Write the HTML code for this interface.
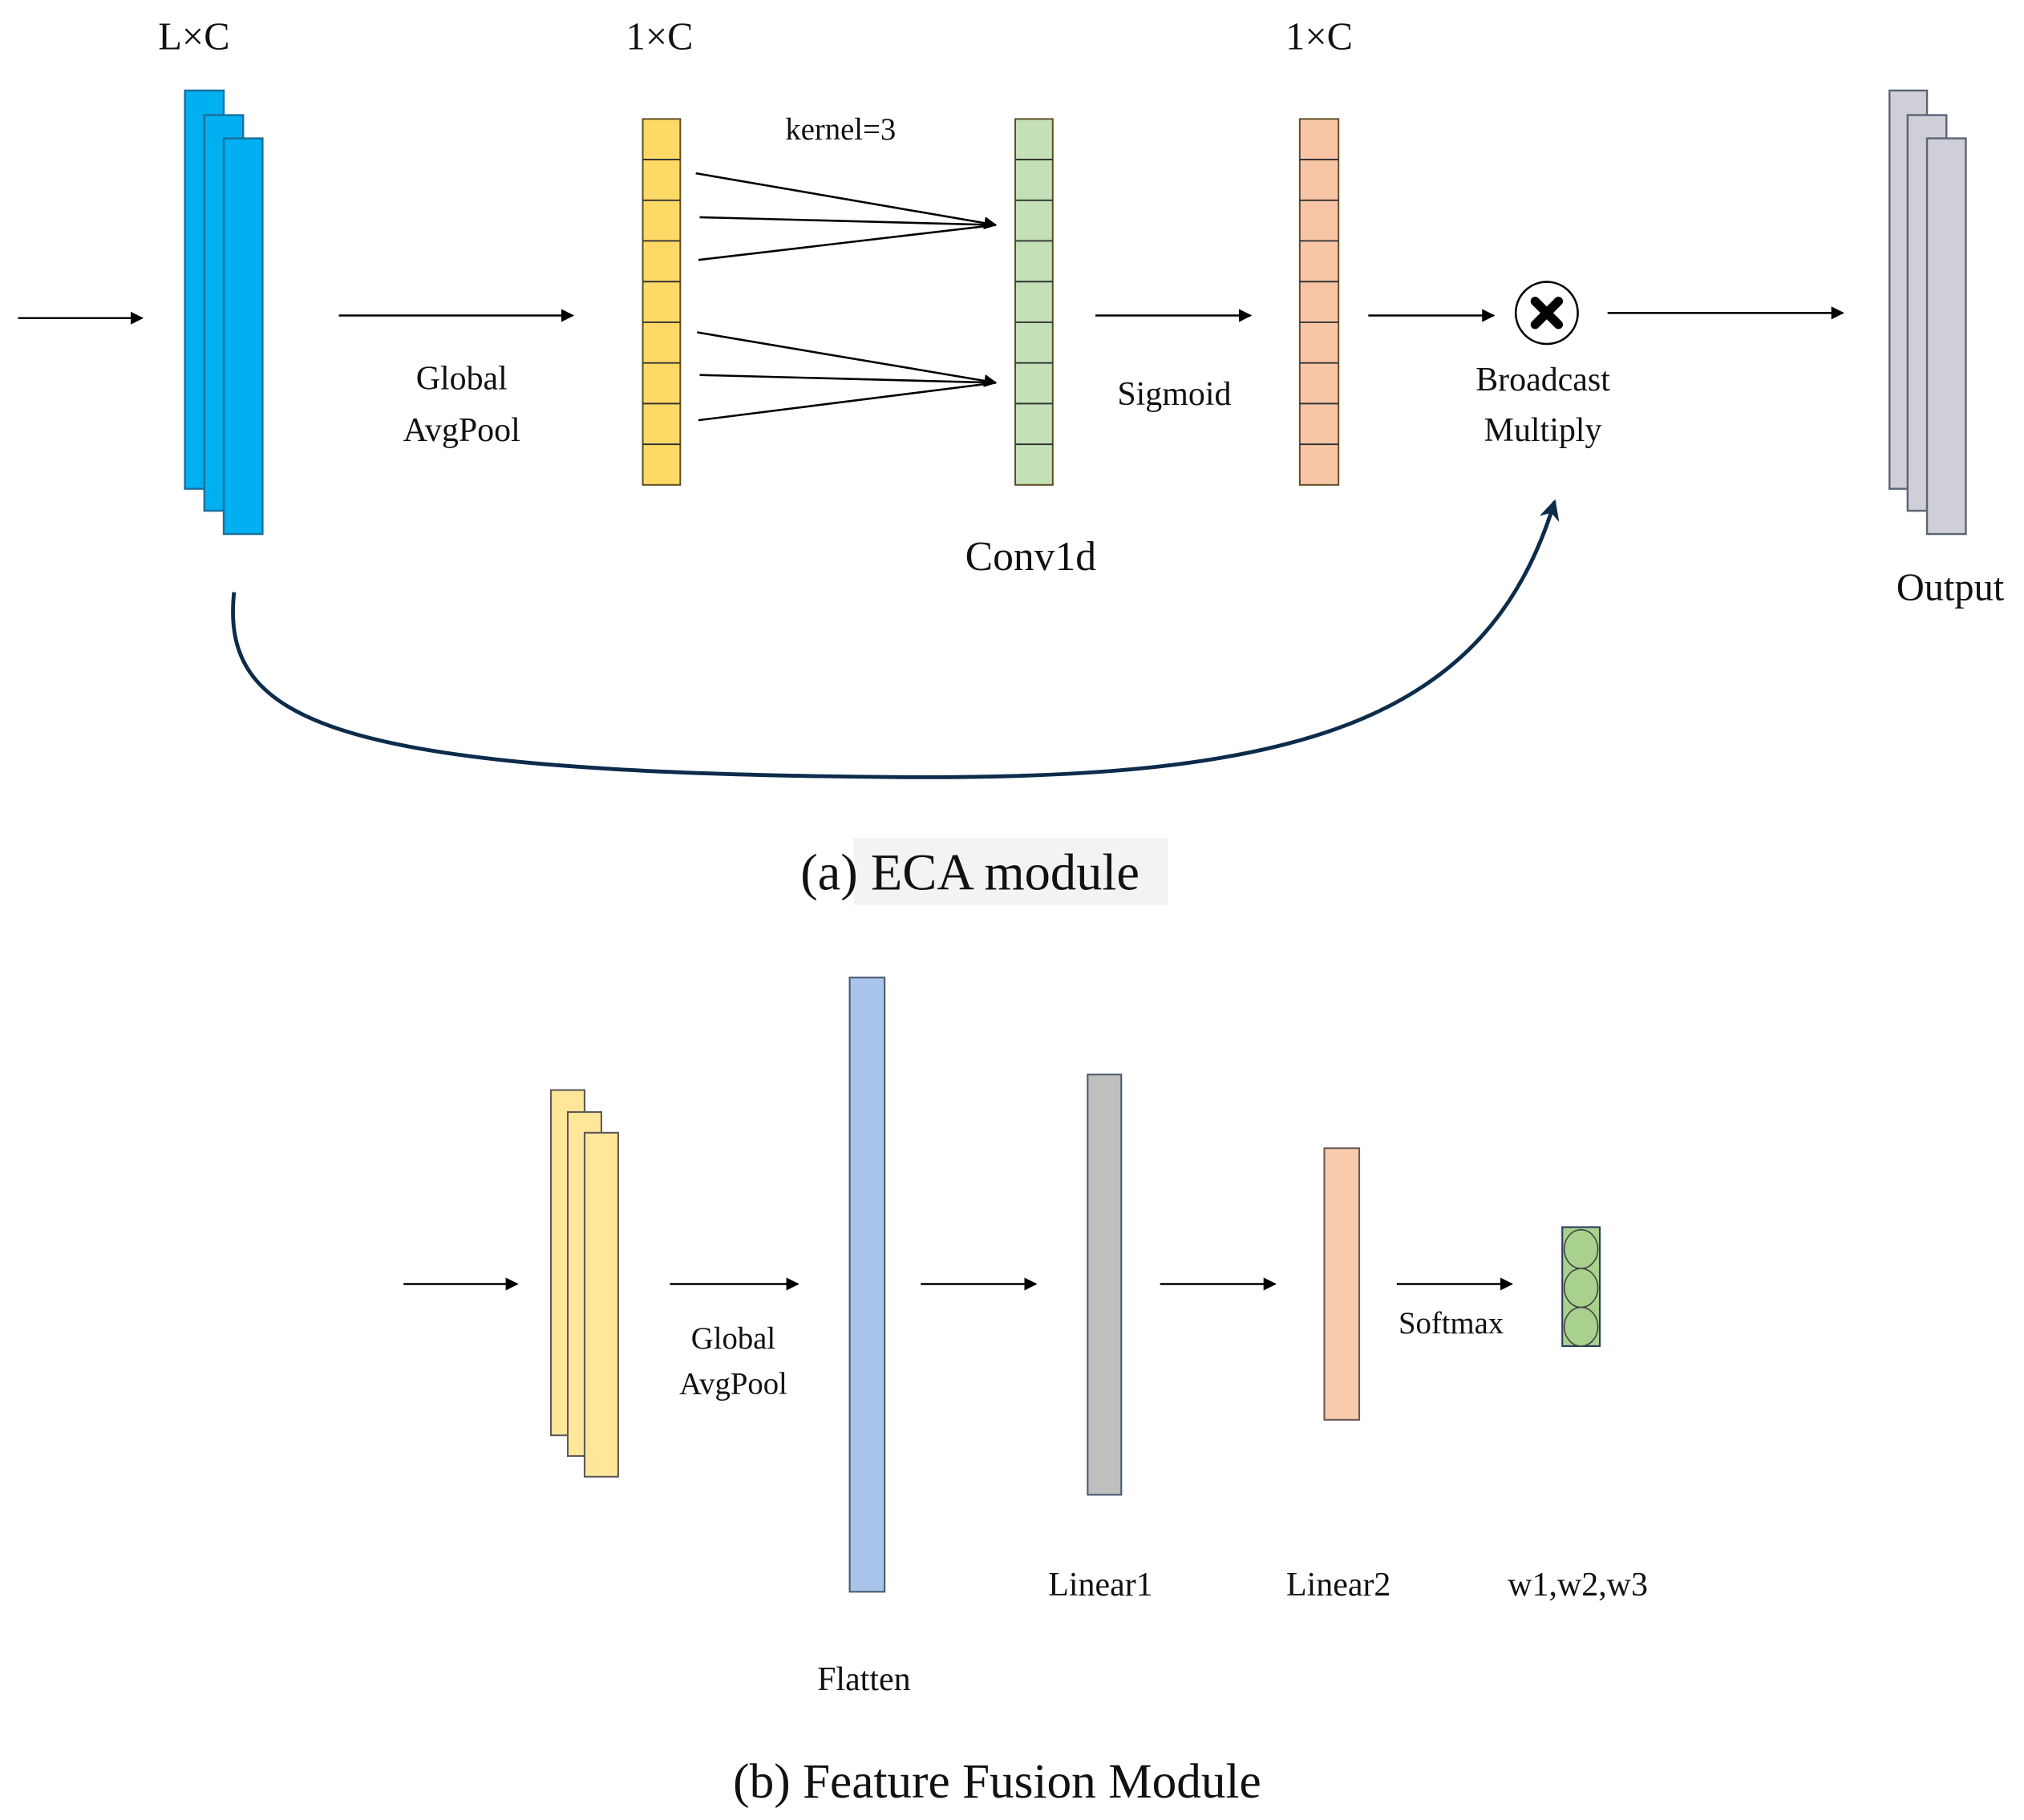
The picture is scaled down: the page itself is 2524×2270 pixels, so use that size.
<!DOCTYPE html>
<html><head><meta charset="utf-8"><style>
html,body{margin:0;padding:0;background:#fff;}
svg{display:block;}
text{font-family:"Liberation Serif",serif;fill:#111;}
</style></head><body>
<svg width="2524" height="2270" viewBox="0 0 1565 1407.5" preserveAspectRatio="none" xmlns="http://www.w3.org/2000/svg">
<defs>
<marker id="ah" markerWidth="10" markerHeight="10" refX="9" refY="5" orient="auto" markerUnits="userSpaceOnUse">
<path d="M0,0 L10,5 L0,10 z" fill="#000"/>
</marker>
<marker id="ah2" markerWidth="16" markerHeight="16" refX="14" refY="8" orient="auto" markerUnits="userSpaceOnUse">
<path d="M0,0 L16,8 L0,16 L5,8 z" fill="#0d2c4c"/>
</marker>
</defs>
<rect width="1565" height="1407.5" fill="#fff"/>

<text x="150" y="38" font-size="30" text-anchor="middle">L×C</text>
<text x="510" y="38" font-size="30" text-anchor="middle">1×C</text>
<text x="1020" y="38" font-size="30" text-anchor="middle">1×C</text>

<g fill="#00B0F0" stroke="#1a6f9f" stroke-width="1.5">
<rect x="143" y="70" width="30" height="308"/>
<rect x="158" y="89" width="30" height="306"/>
<rect x="173" y="107" width="30" height="306"/>
</g>

<g stroke="#000" stroke-width="1.6" fill="none">
<line x1="14" y1="246" x2="110" y2="246" marker-end="url(#ah)"/>
<line x1="262" y1="244" x2="443" y2="244" marker-end="url(#ah)"/>
<line x1="847" y1="244" x2="967" y2="244" marker-end="url(#ah)"/>
<line x1="1058" y1="244" x2="1155" y2="244" marker-end="url(#ah)"/>
<line x1="1243" y1="242" x2="1425" y2="242" marker-end="url(#ah)"/>
<line x1="538" y1="134" x2="770" y2="174" marker-end="url(#ah)"/>
<line x1="541" y1="168" x2="770" y2="174"/>
<line x1="540" y1="201" x2="770" y2="174"/>
<line x1="539" y1="257" x2="770" y2="296" marker-end="url(#ah)"/>
<line x1="541" y1="290" x2="770" y2="296"/>
<line x1="540" y1="325" x2="770" y2="296"/>
</g>

<text x="357" y="301" font-size="26" text-anchor="middle">Global</text>
<text x="357" y="341" font-size="26" text-anchor="middle">AvgPool</text>
<text x="650" y="108" font-size="24" text-anchor="middle">kernel=3</text>

<g stroke="#5a4a20" stroke-width="1.2">
<rect x="497" y="92" width="29" height="283" fill="#FFD966"/>
<rect x="785" y="92" width="29" height="283" fill="#C3E0B6"/>
<rect x="1005" y="92" width="30" height="283" fill="#F8C6A6"/>
</g>
<g stroke="#333" stroke-width="1.2">
<line x1="497" y1="123.4" x2="526" y2="123.4"/><line x1="497" y1="154.9" x2="526" y2="154.9"/><line x1="497" y1="186.3" x2="526" y2="186.3"/><line x1="497" y1="217.8" x2="526" y2="217.8"/><line x1="497" y1="249.2" x2="526" y2="249.2"/><line x1="497" y1="280.7" x2="526" y2="280.7"/><line x1="497" y1="312.1" x2="526" y2="312.1"/><line x1="497" y1="343.6" x2="526" y2="343.6"/>
<line x1="785" y1="123.4" x2="814" y2="123.4"/><line x1="785" y1="154.9" x2="814" y2="154.9"/><line x1="785" y1="186.3" x2="814" y2="186.3"/><line x1="785" y1="217.8" x2="814" y2="217.8"/><line x1="785" y1="249.2" x2="814" y2="249.2"/><line x1="785" y1="280.7" x2="814" y2="280.7"/><line x1="785" y1="312.1" x2="814" y2="312.1"/><line x1="785" y1="343.6" x2="814" y2="343.6"/>
<line x1="1005" y1="123.4" x2="1035" y2="123.4"/><line x1="1005" y1="154.9" x2="1035" y2="154.9"/><line x1="1005" y1="186.3" x2="1035" y2="186.3"/><line x1="1005" y1="217.8" x2="1035" y2="217.8"/><line x1="1005" y1="249.2" x2="1035" y2="249.2"/><line x1="1005" y1="280.7" x2="1035" y2="280.7"/><line x1="1005" y1="312.1" x2="1035" y2="312.1"/><line x1="1005" y1="343.6" x2="1035" y2="343.6"/>
</g>

<text x="797" y="441" font-size="32" text-anchor="middle">Conv1d</text>
<text x="908" y="313" font-size="26" text-anchor="middle">Sigmoid</text>

<circle cx="1196" cy="242" r="24" fill="#fff" stroke="#000" stroke-width="1.6"/>
<g stroke="#000" stroke-width="7" stroke-linecap="round">
<line x1="1187" y1="233" x2="1205" y2="251"/><line x1="1205" y1="233" x2="1187" y2="251"/>
</g>
<text x="1193" y="302" font-size="26" text-anchor="middle">Broadcast</text>
<text x="1193" y="341" font-size="26" text-anchor="middle">Multiply</text>

<g fill="#D0CFD7" stroke="#5b6577" stroke-width="1.5">
<rect x="1461" y="70" width="29" height="308"/>
<rect x="1475" y="89" width="30" height="306"/>
<rect x="1490" y="107" width="30" height="306"/>
</g>
<text x="1508" y="464" font-size="30" text-anchor="middle">Output</text>

<path d="M181,458 C170,560 260,598 697,601 C1000,603 1150,560 1202,388" fill="none" stroke="#0d2c4c" stroke-width="3" marker-end="url(#ah2)"/>

<rect x="660" y="648" width="243" height="52" fill="#f3f3f3"/>
<text x="750" y="688" font-size="40" text-anchor="middle">(a) ECA module</text>

<!-- part b -->
<g fill="#FFE699" stroke="#5a5a5a" stroke-width="1.3">
<rect x="426" y="843" width="26" height="267"/>
<rect x="439" y="860" width="26" height="266"/>
<rect x="452" y="876" width="26" height="266"/>
</g>
<g stroke="#000" stroke-width="1.6">
<line x1="312" y1="993" x2="400" y2="993" marker-end="url(#ah)"/>
<line x1="518" y1="993" x2="617" y2="993" marker-end="url(#ah)"/>
<line x1="712" y1="993" x2="801" y2="993" marker-end="url(#ah)"/>
<line x1="897" y1="993" x2="986" y2="993" marker-end="url(#ah)"/>
<line x1="1080" y1="993" x2="1169" y2="993" marker-end="url(#ah)"/>
</g>
<text x="567" y="1043" font-size="24" text-anchor="middle">Global</text>
<text x="567" y="1078" font-size="24" text-anchor="middle">AvgPool</text>
<rect x="657" y="756" width="27" height="475" fill="#A9C4EB" stroke="#4a5a70" stroke-width="1.3"/>
<rect x="841" y="831" width="26" height="325" fill="#BFBFBF" stroke="#4a5a70" stroke-width="1.3"/>
<rect x="1024" y="888" width="27" height="210" fill="#F8CBAD" stroke="#6a5a55" stroke-width="1.3"/>
<text x="1122" y="1031" font-size="24" text-anchor="middle">Softmax</text>
<rect x="1208" y="949" width="29" height="92" fill="#A9D18E" stroke="#2a3a60" stroke-width="1.3"/>
<g fill="#A9D18E" stroke="#444" stroke-width="1">
<ellipse cx="1222.5" cy="966" rx="13" ry="15"/>
<ellipse cx="1222.5" cy="996" rx="13" ry="15"/>
<ellipse cx="1222.5" cy="1026" rx="13" ry="15"/>
</g>
<text x="851" y="1234" font-size="26" text-anchor="middle">Linear1</text>
<text x="1035" y="1234" font-size="26" text-anchor="middle">Linear2</text>
<text x="1220" y="1234" font-size="26" text-anchor="middle">w1,w2,w3</text>
<text x="668" y="1307" font-size="26" text-anchor="middle">Flatten</text>
<text x="771" y="1390" font-size="38" text-anchor="middle">(b) Feature Fusion Module</text>
</svg>
</body></html>
